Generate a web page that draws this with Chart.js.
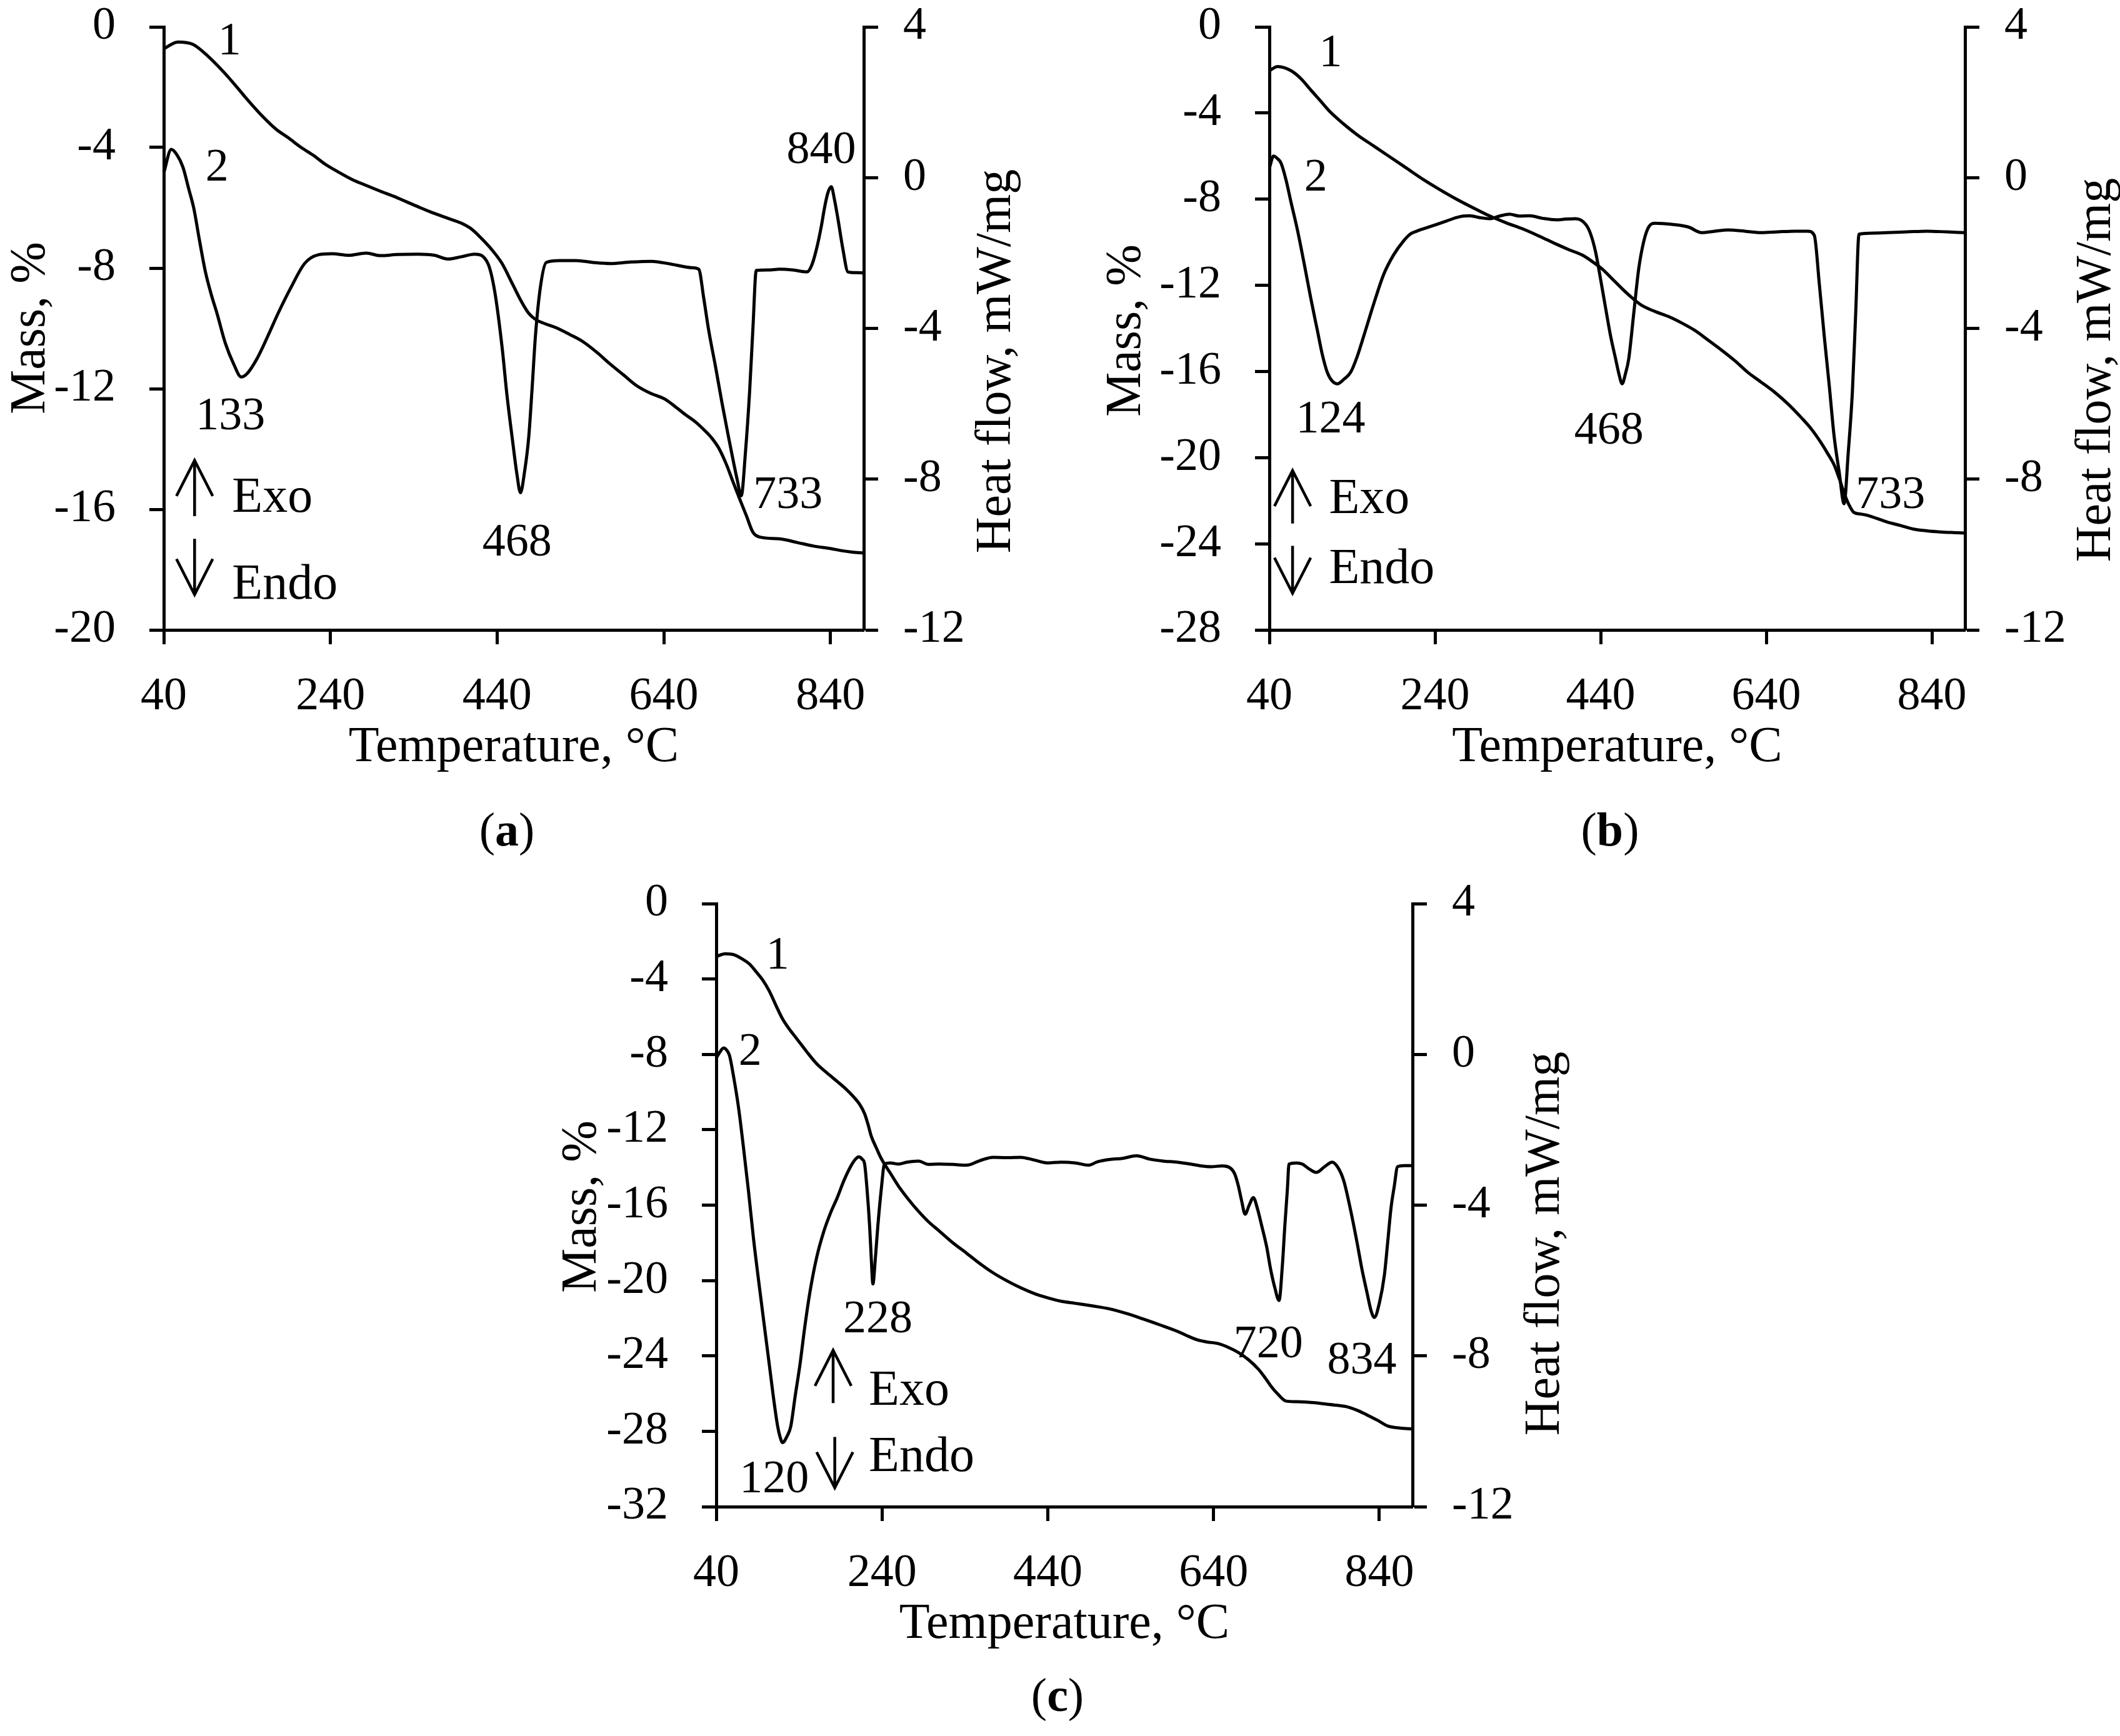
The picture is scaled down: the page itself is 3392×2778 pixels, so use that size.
<!DOCTYPE html>
<html>
<head>
<meta charset="utf-8">
<script src="https://cdn.jsdelivr.net/npm/chart.js@4.4.0/dist/chart.umd.min.js"></script>
<style>
html, body { margin: 0; padding: 0; background: #fff; }
body { width: 3392px; height: 2778px; position: relative; overflow: hidden; font-family: "Liberation Serif", serif; }
.panel { position: absolute; }
.cap { position: absolute; font-size: 76px; transform: translate(-50%, -50%); white-space: nowrap; color: #000; }
</style>
</head>
<body>
<div class="panel" style="left:0px;top:0px"><canvas id="chartA" width="1720" height="1260"></canvas></div>
<div class="panel" style="left:1740px;top:0px"><canvas id="chartB" width="1652" height="1260"></canvas></div>
<div class="panel" style="left:850px;top:1390px"><canvas id="chartC" width="1700" height="1275"></canvas></div>
<div class="cap" style="left:811px;top:1327px">(<b>a</b>)</div>
<div class="cap" style="left:2576px;top:1327px">(<b>b</b>)</div>
<div class="cap" style="left:1692px;top:2712px">(<b>c</b>)</div>
<script>
// axis ticks
const xTicks = [40, 240, 440, 640, 840];
const massTicksA = [0, -4, -8, -12, -16, -20];
const massTicksB = [0, -4, -8, -12, -16, -20, -24, -28];
const massTicksC = [0, -4, -8, -12, -16, -20, -24, -28, -32];
const heatTicks = [4, 0, -4, -8, -12];

// (a) curve 1: mass, %
const tMassA = [40, 57, 75, 93, 112, 126, 140, 159, 175, 189,
  205, 219, 234, 250, 266, 283, 299, 316, 332, 348,
  364, 381, 397, 410, 421, 434, 446, 458, 470, 478,
  486, 498, 511, 527, 543, 560, 576, 592, 607, 624,
  641, 654, 666, 678, 690, 698, 706, 715, 723, 731,
  739, 747, 755, 779, 800, 820, 840, 853, 866, 880];
const massA = [-0.73, -0.5, -0.58, -0.97, -1.5, -1.94, -2.4, -2.98, -3.4, -3.67,
  -4.0, -4.25, -4.56, -4.82, -5.06, -5.26, -5.44, -5.62, -5.81, -6.0,
  -6.18, -6.35, -6.51, -6.72, -7.01, -7.4, -7.85, -8.5, -9.15, -9.5,
  -9.7, -9.85, -9.98, -10.2, -10.44, -10.8, -11.19, -11.55, -11.89, -12.15,
  -12.34, -12.6, -12.86, -13.1, -13.41, -13.65, -13.97, -14.5, -15.08, -15.65,
  -16.2, -16.76, -16.92, -16.98, -17.1, -17.22, -17.3, -17.37, -17.42, -17.45];
// (a) curve 2: heat flow, mW/mg
const tHeatA = [40, 49, 56, 63, 70, 76, 83, 90, 97, 104,
  114, 124, 133, 140, 152, 165, 177, 193, 209, 225,
  242, 262, 283, 300, 320, 345, 365, 381, 397, 413,
  429, 437, 446, 452, 458, 464, 468, 473, 478, 482,
  486, 492, 499, 515, 535, 555, 576, 600, 625, 650,
  674, 682, 688, 694, 702, 710, 717, 723, 728, 733,
  738, 743, 747, 751, 765, 779, 795, 812, 818, 824,
  829, 833, 837, 841, 845, 849, 855, 861, 870, 880];
const heatA = [0.12, 0.75, 0.6, 0.28, -0.3, -0.81, -1.68, -2.5, -3.1, -3.61,
  -4.4, -4.95, -5.29, -5.2, -4.8, -4.2, -3.61, -2.9, -2.28, -2.05,
  -2.02, -2.06, -2.0, -2.07, -2.04, -2.03, -2.06, -2.16, -2.1, -2.03,
  -2.28, -3.0, -4.5, -5.8, -6.88, -7.9, -8.36, -7.8, -6.88, -5.6,
  -4.21, -2.9, -2.25, -2.2, -2.2, -2.25, -2.28, -2.24, -2.22, -2.3,
  -2.39, -2.43, -3.2, -4.06, -5.0, -5.99, -6.8, -7.47, -8.0, -8.44,
  -7.3, -5.69, -4.0, -2.46, -2.45, -2.43, -2.45, -2.5, -2.3, -1.83,
  -1.3, -0.79, -0.4, -0.24, -0.6, -1.09, -1.9, -2.5, -2.52, -2.53];

// (b)
const tMassB = [40, 50, 66, 78, 90, 102, 114, 130, 146, 166,
  186, 206, 226, 246, 266, 286, 306, 326, 346, 366,
  386, 402, 418, 430, 442, 454, 466, 478, 490, 506,
  522, 538, 554, 570, 586, 602, 618, 634, 650, 666,
  682, 694, 706, 714, 722, 728, 734, 740, 746, 754,
  762, 786, 802, 818, 834, 850, 866, 880];
const massB = [-2.03, -1.84, -2.03, -2.4, -2.93, -3.45, -3.97, -4.52, -5.01, -5.53,
  -6.05, -6.57, -7.09, -7.56, -8.0, -8.4, -8.78, -9.1, -9.38, -9.72,
  -10.08, -10.35, -10.6, -10.9, -11.25, -11.7, -12.16, -12.58, -12.94, -13.22,
  -13.45, -13.75, -14.1, -14.55, -15.01, -15.5, -16.05, -16.5, -16.96, -17.5,
  -18.13, -18.65, -19.3, -19.8, -20.34, -20.95, -21.64, -22.2, -22.55, -22.62,
  -22.68, -22.99, -23.15, -23.32, -23.4, -23.45, -23.48, -23.5];
const tHeatB = [40, 45, 50, 54, 60, 66, 74, 82, 90, 98,
  104, 110, 116, 122, 130, 138, 146, 154, 166, 178,
  190, 202, 210, 218, 230, 242, 254, 266, 274, 282,
  294, 306, 318, 330, 342, 354, 370, 386, 398, 410,
  422, 428, 434, 440, 446, 452, 458, 462, 466, 470,
  474, 480, 486, 492, 498, 506, 526, 546, 562, 578,
  594, 614, 634, 654, 674, 690, 698, 704, 710, 716,
  722, 728, 734, 739, 744, 748, 752, 770, 786, 810,
  834, 858, 880];
const heatB = [0.25, 0.57, 0.5, 0.39, -0.05, -0.64, -1.4, -2.28, -3.2, -4.06,
  -4.7, -5.17, -5.4, -5.47, -5.35, -5.17, -4.75, -4.2, -3.35, -2.57,
  -2.05, -1.68, -1.5, -1.42, -1.33, -1.24, -1.15, -1.06, -1.02, -1.01,
  -1.06, -1.09, -1.02, -0.97, -1.02, -1.01, -1.08, -1.12, -1.1, -1.09,
  -1.24, -1.5, -1.98, -2.7, -3.46, -4.2, -4.8, -5.2, -5.47, -5.2,
  -4.8, -3.6, -2.42, -1.7, -1.31, -1.21, -1.24, -1.31, -1.46, -1.42,
  -1.39, -1.42, -1.46, -1.44, -1.42, -1.42, -1.53, -2.8, -4.2, -5.5,
  -6.87, -7.8, -8.65, -7.3, -5.69, -3.6, -1.5, -1.47, -1.46, -1.44,
  -1.42, -1.44, -1.46];

// (c)
const tMassC = [40, 51, 62, 71, 80, 88, 96, 104, 112, 120,
  128, 137, 149, 161, 174, 186, 196, 206, 213, 219,
  223, 227, 233, 239, 250, 260, 272, 284, 296, 309,
  325, 342, 358, 374, 390, 407, 423, 440, 456, 473,
  494, 514, 535, 555, 575, 596, 608, 620, 632, 645,
  658, 670, 682, 694, 702, 710, 718, 727, 740, 760,
  780, 800, 813, 825, 838, 850, 865, 880];
const massC = [-2.81, -2.66, -2.72, -2.93, -3.2, -3.61, -4.05, -4.64, -5.4, -6.12,
  -6.65, -7.16, -7.85, -8.49, -9.0, -9.44, -9.82, -10.27, -10.65, -11.15,
  -11.7, -12.34, -12.95, -13.52, -14.3, -15.0, -15.7, -16.33, -16.88, -17.37,
  -17.98, -18.55, -19.1, -19.59, -20.0, -20.38, -20.68, -20.92, -21.1, -21.21,
  -21.35, -21.5, -21.75, -22.04, -22.35, -22.69, -22.93, -23.14, -23.26, -23.34,
  -23.55, -23.82, -24.2, -24.7, -25.15, -25.65, -26.05, -26.39, -26.43, -26.48,
  -26.58, -26.69, -26.88, -27.13, -27.42, -27.72, -27.83, -27.87];
const tHeatC = [40, 44, 49, 53, 56, 61, 67, 73, 79, 85,
  92, 98, 104, 109, 114, 117, 120, 125, 130, 135,
  141, 147, 153, 161, 170, 178, 186, 194, 202, 208,
  212, 216, 219, 222, 225, 227, 229, 232, 235, 239,
  243, 250, 260, 270, 284, 296, 309, 325, 342, 358,
  374, 390, 407, 423, 440, 456, 473, 489, 500, 514,
  530, 547, 563, 579, 596, 612, 625, 637, 650, 661,
  666, 670, 674, 678, 683, 688, 693, 698, 704, 709,
  714, 719, 723, 726, 729, 731, 740, 747, 756, 764,
  774, 783, 790, 797, 805, 813, 819, 825, 830, 834,
  840, 846, 850, 854, 858, 862, 870, 880];
const heatC = [-0.1, 0.05, 0.17, 0.1, -0.03, -0.6, -1.43, -2.5, -3.65, -4.9,
  -6.16, -7.2, -8.23, -9.1, -9.86, -10.15, -10.3, -10.15, -9.86, -9.1,
  -8.23, -7.2, -6.31, -5.4, -4.68, -4.2, -3.8, -3.35, -2.98, -2.78,
  -2.72, -2.78, -2.91, -3.6, -4.54, -5.4, -6.09, -5.4, -4.54, -3.6,
  -2.91, -2.88, -2.91, -2.86, -2.83, -2.92, -2.91, -2.92, -2.94, -2.82,
  -2.73, -2.74, -2.73, -2.8, -2.88, -2.86, -2.88, -2.94, -2.85, -2.79,
  -2.76, -2.69, -2.78, -2.83, -2.86, -2.91, -2.96, -2.98, -2.96, -3.03,
  -3.2, -3.5, -3.9, -4.24, -4.0, -3.8, -4.1, -4.54, -5.1, -5.72,
  -6.2, -6.53, -5.6, -4.54, -3.6, -2.91, -2.88, -2.91, -3.05, -3.13,
  -2.98, -2.86, -3.0, -3.35, -4.1, -4.98, -5.7, -6.31, -6.8, -6.98,
  -6.6, -5.87, -5.0, -4.09, -3.5, -2.98, -2.95, -2.95];

// labels on the plot, placed in (temperature, mass) units
const peaksA = [['1', 119, -0.5], ['2', 104, -4.7], ['133', 120, -12.95], ['468', 464, -17.14], ['733', 789, -15.55], ['840', 829, -4.12]];
const wordsA = [['Exo', 122, -15.64], ['Endo', 122, -18.52]];
const arrowsA = [[77, -16.23, -14.38], [77, -16.98, -18.83]];
const peaksB = [['1', 114, -1.25], ['2', 96, -7.04], ['124', 114, -18.26], ['468', 450, -18.78], ['733', 790, -21.77]];
const wordsB = [['Exo', 112, -21.95], ['Endo', 112, -25.2]];
const arrowsB = [[68, -23.06, -20.6], [68, -24.1, -26.3]];
const peaksC = [['1', 114, -2.81], ['2', 81, -7.9], ['228', 235, -22.1], ['120', 110, -30.6], ['720', 706, -23.43], ['834', 819, -24.3]];
const wordsC = [['Exo', 224, -25.9], ['Endo', 224, -29.4]];
const arrowsC = [[181, -26.5, -23.7], [183, -28.3, -31.0]];

const FONT = '"Liberation Serif", serif';
const tickFont = { family: FONT, size: 74 };

function pts(xs, ys) {
  return xs.map((x, i) => ({ x: x, y: ys[i] }));
}

function overlay(p) {
  return {
    id: 'overlay',
    afterDraw(chart) {
      const ctx = chart.ctx, sx = chart.scales.x, sy = chart.scales.yMass;
      const a = chart.chartArea;
      ctx.save();
      ctx.fillStyle = '#000';
      ctx.strokeStyle = '#000';
      ctx.textBaseline = 'middle';
      ctx.font = '74px ' + FONT;
      ctx.textAlign = 'center';
      p.peaks.forEach(q => ctx.fillText(q[0], sx.getPixelForValue(q[1]), sy.getPixelForValue(q[2])));
      ctx.font = '80px ' + FONT;
      ctx.textAlign = 'left';
      p.words.forEach(q => ctx.fillText(q[0], sx.getPixelForValue(q[1]), sy.getPixelForValue(q[2])));
      ctx.lineWidth = 4.5;
      p.arrows.forEach(q => {
        const x = sx.getPixelForValue(q[0]);
        const y0 = sy.getPixelForValue(q[1]), y1 = sy.getPixelForValue(q[2]);
        const d = y1 > y0 ? 1 : -1;
        ctx.beginPath();
        ctx.moveTo(x, y0);
        ctx.lineTo(x, y1);
        ctx.moveTo(x - 29, y1 - d * 57);
        ctx.lineTo(x, y1);
        ctx.lineTo(x + 29, y1 - d * 57);
        ctx.stroke();
      });
      // axis titles
      ctx.font = '80px ' + FONT;
      ctx.textAlign = 'center';
      ctx.fillText('Temperature, °C', (a.left + a.right) / 2, a.bottom + 189);
      [[p.massX, p.massY, 'Mass, %'], [p.heatX, p.heatY, 'Heat flow, mW/mg']].forEach(t => {
        ctx.save();
        ctx.translate(t[0], t[1]);
        ctx.rotate(-Math.PI / 2);
        ctx.fillText(t[2], 0, 0);
        ctx.restore();
      });
      ctx.restore();
    }
  };
}

function axisCommon(ticks) {
  return {
    grid: { display: true, drawOnChartArea: false, drawTicks: true, tickLength: 23, tickWidth: 5, color: '#000' },
    border: { display: true, color: '#000', width: 5 },
    afterBuildTicks: s => { s.ticks = ticks.map(v => ({ value: v })); },
    ticks: { font: tickFont, color: '#000', autoSkip: false, maxRotation: 0, callback: v => String(v) }
  };
}

function noPad(s) {
  s.paddingTop = 0; s.paddingBottom = 0; s.paddingLeft = 0; s.paddingRight = 0;
}

function makeChart(id, p) {
  const cv = document.getElementById(id);
  const W = cv.width, H = cv.height;
  const xAxis = axisCommon(xTicks);
  xAxis.type = 'linear'; xAxis.position = 'bottom'; xAxis.min = 40; xAxis.max = 880;
  xAxis.ticks.padding = 40;
  xAxis.afterFit = s => { s.height = H - p.b; noPad(s); };
  const yM = axisCommon(p.massTicks);
  yM.position = 'left'; yM.min = p.massTicks[p.massTicks.length - 1]; yM.max = 0;
  yM.ticks.padding = 54;
  yM.afterFit = s => { s.width = p.l; noPad(s); };
  const yH = axisCommon(heatTicks);
  yH.position = 'right'; yH.min = -12; yH.max = 4;
  yH.ticks.padding = 40;
  yH.afterFit = s => { s.width = W - p.r; noPad(s); };

  return new Chart(cv, {
    type: 'line',
    data: {
      datasets: [
        { data: pts(p.tm, p.m), yAxisID: 'yMass' },
        { data: pts(p.th, p.h), yAxisID: 'yHeat' }
      ]
    },
    options: {
      responsive: false,
      animation: false,
      devicePixelRatio: 1,
      parsing: false,
      layout: { padding: { top: p.t, left: 0, right: 0, bottom: 0 } },
      elements: {
        point: { radius: 0 },
        line: { borderColor: '#000', borderWidth: 5, cubicInterpolationMode: 'monotone', fill: false }
      },
      plugins: { legend: { display: false }, tooltip: { enabled: false }, title: { display: false } },
      scales: { x: xAxis, yMass: yM, yHeat: yH }
    },
    plugins: [overlay(p)]
  });
}

makeChart('chartA', {
  l: 262, r: 1382, t: 43, b: 1008, massX: 50, massY: 525, heatX: 1595, heatY: 578,
  massTicks: massTicksA, tm: tMassA, m: massA, th: tHeatA, h: heatA,
  peaks: peaksA, words: wordsA, arrows: arrowsA
});
makeChart('chartB', {
  l: 291, r: 1404, t: 43, b: 1008, massX: 63, massY: 529, heatX: 1615, heatY: 592,
  massTicks: massTicksB, tm: tMassB, m: massB, th: tHeatB, h: heatB,
  peaks: peaksB, words: wordsB, arrows: arrowsB
});
makeChart('chartC', {
  l: 296, r: 1410, t: 56, b: 1021, massX: 82, massY: 541, heatX: 1623, heatY: 600,
  massTicks: massTicksC, tm: tMassC, m: massC, th: tHeatC, h: heatC,
  peaks: peaksC, words: wordsC, arrows: arrowsC
});
</script>
</body>
</html>
